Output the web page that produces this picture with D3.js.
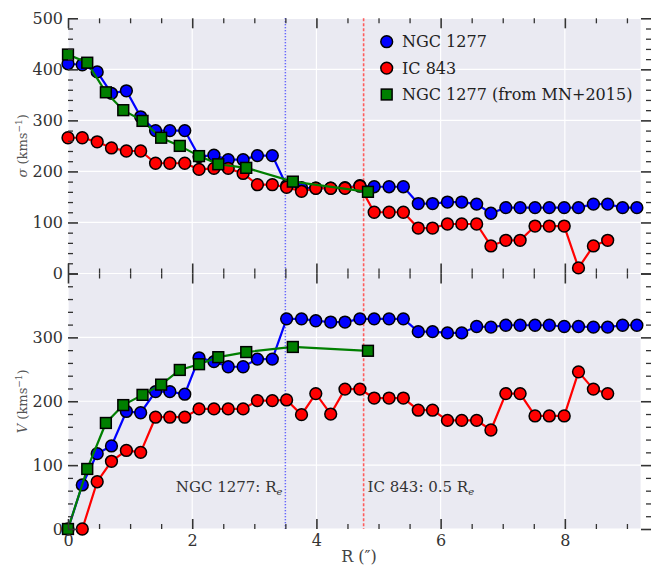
<!DOCTYPE html>
<html>
<head>
<meta charset="utf-8">
<script src="https://cdn.jsdelivr.net/npm/d3@7"></script>
<style>
  body { margin: 0; background: #fff; }
  text { font-family: "DejaVu Serif", "Liberation Serif", serif; }
</style>
</head>
<body>
<svg id="chart" width="654" height="568"></svg>
<script>
// Radial sampling of the long-slit profiles (arcsec)
const radius = [0.00, 0.23, 0.47, 0.70, 0.94, 1.17, 1.41, 1.64, 1.88, 2.11,
                2.35, 2.58, 2.82, 3.05, 3.29, 3.52, 3.76, 3.99, 4.23, 4.46,
                4.70, 4.93, 5.17, 5.40, 5.64, 5.87, 6.11, 6.34, 6.58, 6.81,
                7.05, 7.28, 7.52, 7.75, 7.99, 8.22, 8.46, 8.69, 8.93, 9.16];

// Velocity dispersion (km/s)
const sigmaNGC1277 = [411, 409, 395, 353, 358, 307, 280, 280, 280, 229,
                      232, 223, 223, 231, 231, 172, 168, 167, 167, 168,
                      172, 170, 170, 170, 137, 137, 140, 140, 136, 118,
                      129, 129, 129, 129, 129, 129, 136, 136, 129, 129];
const sigmaIC843 = [266, 266, 258, 246, 240, 240, 216, 216, 216, 204,
                    206, 206, 196, 174, 174, 169, 161, 167, 167, 167,
                    171, 120, 120, 120, 89, 89, 97, 97, 97, 54,
                    65, 65, 93, 93, 93, 11, 54, 65];

// Rotation velocity (km/s); IC 843 has no central sample
const velNGC1277 = [0, 69, 118, 130, 184, 182, 215, 215, 211, 268,
                    262, 254, 254, 266, 266, 329, 329, 326, 324, 324,
                    329, 329, 329, 329, 309, 309, 307, 307, 317, 316,
                    319, 319, 319, 319, 317, 317, 316, 316, 319, 319];
const velIC843 = [null, 0, 74, 106, 123, 120, 175, 175, 175, 188,
                  188, 188, 188, 201, 201, 202, 179, 212, 180, 219,
                  219, 205, 205, 205, 186, 186, 170, 170, 170, 155,
                  212, 212, 177, 177, 177, 246, 219, 212];

// NGC 1277 profile from MN+2015
const radiusMN2015 = [0.00, 0.31, 0.61, 0.89, 1.20, 1.50, 1.80, 2.11, 2.42, 2.87, 3.62, 4.83];
const sigmaMN2015 = [429, 413, 355, 320, 299, 266, 250, 230, 214, 207, 180, 160];
const velMN2015 = [0, 94, 166, 194, 210, 226, 249, 258, 269, 277, 285, 279];

// Reference radii
const reNGC1277 = 3.50;
const halfReIC843 = 4.76;

const xTicks = [0, 2, 4, 6, 8];
const sigmaTicks = [0, 100, 200, 300, 400, 500];
const velTicks = [0, 100, 200, 300];

const svg = d3.select("#chart");
const left = 68, right = 640.6, spineRight = 651;
const topY = 18.3, midY = 273.5, bottomY = 529;

const x = d3.scaleLinear().domain([0, 9.22]).range([left, right]);
const ySig = d3.scaleLinear().domain([0, 500]).range([midY, topY]);
const yVel = d3.scaleLinear().domain([0, 400]).range([bottomY, midY]);

const bg = "#EAEAF2", tickColor = "#333";

// Panel backgrounds
svg.append("rect").attr("x", left).attr("y", topY)
  .attr("width", right - left).attr("height", bottomY - topY).attr("fill", bg);

const minorX = d3.range(0, 9.01, 0.5).filter(v => v % 2 !== 0);

function grid(y, majors) {
  const g = svg.append("g");
  g.selectAll(null).data(xTicks).enter().append("line")
    .attr("x1", d => x(d)).attr("x2", d => x(d))
    .attr("y1", y.range()[1]).attr("y2", y.range()[0])
    .attr("stroke", "#fff").attr("stroke-width", 1.2);
  g.selectAll(null).data(majors).enter().append("line")
    .attr("x1", left).attr("x2", right)
    .attr("y1", d => y(d)).attr("y2", d => y(d))
    .attr("stroke", "#fff").attr("stroke-width", 1.2);
}

function axes(y, majors, minorStep, yMax, showXLabels) {
  const g = svg.append("g");
  const yMinor = d3.range(0, yMax + 0.1, minorStep).filter(v => v % 100 !== 0);
  const yMajor = d3.range(0, yMax + 0.1, 100);
  const styleAxis = sel => {
    sel.select(".domain").remove();
    sel.selectAll(".tick line").attr("stroke", tickColor);
    sel.selectAll("text").attr("fill", tickColor).attr("font-size", 16)
      .attr("font-family", '"DejaVu Serif", serif');
  };
  // left
  g.append("g").attr("transform", `translate(${left},0)`)
    .call(d3.axisLeft(y).tickValues(yMajor).tickSize(-10).tickPadding(5)
      .tickFormat(d => majors.includes(d) ? d : ""))
    .call(styleAxis).selectAll(".tick line").attr("stroke-width", 1.6);
  g.append("g").attr("transform", `translate(${left},0)`)
    .call(d3.axisLeft(y).tickValues(yMinor).tickSize(-5).tickFormat(""))
    .call(styleAxis).selectAll(".tick line").attr("stroke-width", 1.3);
  // right
  g.append("g").attr("transform", `translate(${spineRight},0)`)
    .call(d3.axisRight(y).tickValues(yMajor).tickSize(-10).tickFormat(""))
    .call(styleAxis).selectAll(".tick line").attr("stroke-width", 1.6);
  g.append("g").attr("transform", `translate(${spineRight},0)`)
    .call(d3.axisRight(y).tickValues(yMinor).tickSize(-5).tickFormat(""))
    .call(styleAxis).selectAll(".tick line").attr("stroke-width", 1.3);
  // top
  g.append("g").attr("transform", `translate(0,${y.range()[1]})`)
    .call(d3.axisTop(x).tickValues(xTicks).tickSize(-10).tickFormat(""))
    .call(styleAxis).selectAll(".tick line").attr("stroke-width", 1.6);
  g.append("g").attr("transform", `translate(0,${y.range()[1]})`)
    .call(d3.axisTop(x).tickValues(minorX).tickSize(-5).tickFormat(""))
    .call(styleAxis).selectAll(".tick line").attr("stroke-width", 1.3);
  // bottom
  g.append("g").attr("transform", `translate(0,${y.range()[0]})`)
    .call(d3.axisBottom(x).tickValues(xTicks).tickSize(-10).tickPadding(6)
      .tickFormat(showXLabels ? d => d : ""))
    .call(styleAxis).selectAll(".tick line").attr("stroke-width", 1.6);
  g.append("g").attr("transform", `translate(0,${y.range()[0]})`)
    .call(d3.axisBottom(x).tickValues(minorX).tickSize(-5).tickFormat(""))
    .call(styleAxis).selectAll(".tick line").attr("stroke-width", 1.3);
}

grid(ySig, sigmaTicks);
grid(yVel, velTicks);

// Reference radii (span both panels)
svg.append("line").attr("x1", x(reNGC1277)).attr("x2", x(reNGC1277))
  .attr("y1", topY).attr("y2", bottomY)
  .attr("stroke", "#3c3cff").attr("stroke-width", 1.5)
  .attr("stroke-dasharray", "1,2");
svg.append("line").attr("x1", x(halfReIC843)).attr("x2", x(halfReIC843))
  .attr("y1", topY).attr("y2", bottomY)
  .attr("stroke", "#ff5c5c").attr("stroke-width", 1.6)
  .attr("stroke-dasharray", "3,2");

function series(y, xs, ys, color, shape) {
  const pts = xs.map((r, i) => [r, ys[i]]).filter(p => p[1] != null);
  const line = d3.line().x(p => x(p[0])).y(p => y(p[1]));
  svg.append("path").datum(pts).attr("d", line)
    .attr("fill", "none").attr("stroke", color).attr("stroke-width", 2.2);
  if (shape === "circle") {
    svg.selectAll(null).data(pts).enter().append("circle")
      .attr("cx", p => x(p[0])).attr("cy", p => y(p[1])).attr("r", 5.9)
      .attr("fill", color).attr("stroke", "#000").attr("stroke-width", 1.5);
  } else {
    const s = 10.8;
    svg.selectAll(null).data(pts).enter().append("rect")
      .attr("x", p => x(p[0]) - s / 2).attr("y", p => y(p[1]) - s / 2)
      .attr("width", s).attr("height", s)
      .attr("fill", color).attr("stroke", "#000").attr("stroke-width", 1.5);
  }
}

const blue = "#0000ff", red = "#ff0000", green = "#007f00";

series(ySig, radius, sigmaNGC1277, blue, "circle");
series(ySig, radius, sigmaIC843, red, "circle");
series(ySig, radiusMN2015, sigmaMN2015, green, "square");

series(yVel, radius, velNGC1277, blue, "circle");
series(yVel, radius, velIC843, red, "circle");
series(yVel, radiusMN2015, velMN2015, green, "square");

axes(ySig, sigmaTicks, 20, 500, false);
axes(yVel, velTicks, 20, 400, true);

// Annotations
const ann1 = svg.append("text").attr("x", x(reNGC1277) - 3).attr("y", 492)
  .attr("text-anchor", "end").attr("font-size", 15).attr("fill", "#333");
ann1.append("tspan").text("NGC 1277: R");
ann1.append("tspan").text("e").attr("font-size", 10).attr("font-style", "italic").attr("dy", 3);

const ann2 = svg.append("text").attr("x", x(halfReIC843) + 4).attr("y", 492)
  .attr("font-size", 15).attr("fill", "#333");
ann2.append("tspan").text("IC 843: 0.5 R");
ann2.append("tspan").text("e").attr("font-size", 10).attr("font-style", "italic").attr("dy", 3);

// Legend
const legend = [
  { label: "NGC 1277", color: blue, shape: "circle" },
  { label: "IC 843", color: red, shape: "circle" },
  { label: "NGC 1277 (from MN+2015)", color: green, shape: "square" }
];
legend.forEach((d, i) => {
  const cy = 41.7 + i * 26.4, cx = 386.7;
  if (d.shape === "circle") {
    svg.append("circle").attr("cx", cx).attr("cy", cy).attr("r", 5.9)
      .attr("fill", d.color).attr("stroke", "#000").attr("stroke-width", 1.5);
  } else {
    svg.append("rect").attr("x", cx - 5.4).attr("y", cy - 5.4)
      .attr("width", 10.8).attr("height", 10.8)
      .attr("fill", d.color).attr("stroke", "#000").attr("stroke-width", 1.5);
  }
  svg.append("text").attr("x", 402).attr("y", cy).attr("dy", "0.36em")
    .attr("font-size", 16).attr("fill", "#222").text(d.label);
});

// Axis labels
function yLabel(sym, cy) {
  const t = svg.append("text")
    .attr("transform", `translate(27,${cy}) rotate(-90)`)
    .attr("text-anchor", "middle").attr("font-size", 13).attr("fill", "#555");
  t.append("tspan").text(sym).attr("font-style", "italic");
  t.append("tspan").text(" (kms");
  t.append("tspan").text("\u22121").attr("font-size", 9).attr("dy", -5);
  t.append("tspan").text(")").attr("dy", 5);
}
yLabel("\u03c3", (topY + midY) / 2);
yLabel("V", (midY + bottomY) / 2);

svg.append("text").attr("x", 359).attr("y", 562).attr("text-anchor", "middle")
  .attr("font-size", 16).attr("fill", "#444").text("R (\u2033)");
</script>
</body>
</html>
